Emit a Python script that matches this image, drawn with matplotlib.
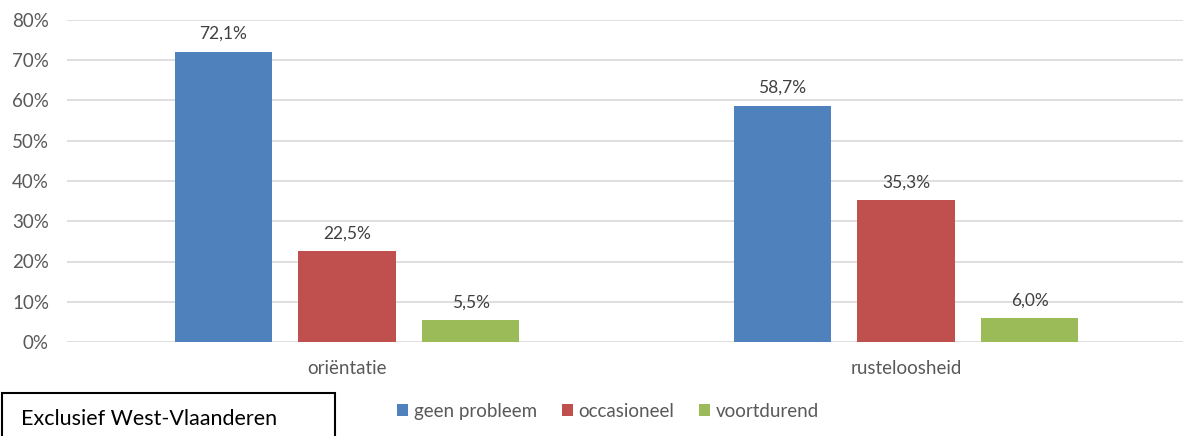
import matplotlib
matplotlib.use("Agg")
import matplotlib.pyplot as plt
from matplotlib.patches import Rectangle
import numpy as np

plt.rcParams['font.family'] = ['Lato', 'DejaVu Sans']

categories = ["oriëntatie", "rusteloosheid"]
series_names = ["geen probleem", "occasioneel", "voortdurend"]
values = [
    [72.1, 58.7],
    [22.5, 35.3],
    [5.5, 6.0],
]
labels = [
    ["72,1%", "58,7%"],
    ["22,5%", "35,3%"],
    ["5,5%", "6,0%"],
]
colors = ["#4F81BD", "#C0504D", "#9BBB59"]
yticks = [0, 10, 20, 30, 40, 50, 60, 70, 80]

W, H = 1183, 436
fig = plt.figure(figsize=(W / 100, H / 100), dpi=100)
ax = fig.add_axes([67 / W, (H - 342) / H, (1183 - 67) / W, (342 - 20) / H])

x = np.arange(len(categories))
width = 0.174
step = 0.221
for i, (name, vals) in enumerate(zip(series_names, values)):
    pos = x + (i - 1) * step
    bars = ax.bar(pos, vals, width=width, color=colors[i], label=name, zorder=3)
    for b, lab in zip(bars, labels[i]):
        ax.annotate(lab, (b.get_x() + b.get_width() / 2, b.get_height()),
                    xytext=(0, 7), textcoords="offset points",
                    ha="center", va="bottom", fontsize=12.5, color="#404040")

ax.set_xlim(-0.501, 1.4955)
ax.set_ylim(0, 80)
ax.set_yticks(yticks)
ax.set_yticklabels([f"{t}%" for t in yticks], fontsize=13.5, color="#595959")
ax.set_xticks(x)
ax.set_xticklabels(categories, fontsize=13.5, color="#595959")
ax.tick_params(axis="both", length=0)
ax.tick_params(axis="y", pad=13)
ax.tick_params(axis="x", pad=13)
ax.yaxis.grid(True, color="#D9D9D9", linewidth=1.2, zorder=0)
for s in ["top", "right", "left", "bottom"]:
    ax.spines[s].set_visible(False)

leg = fig.legend(loc="center", bbox_to_anchor=(608 / W, (H - 411) / H), ncol=3,
                 frameon=False, fontsize=13.5, handlelength=0.6, handleheight=0.6,
                 handletextpad=0.3, columnspacing=1.3)
for t in leg.get_texts():
    t.set_color("#595959")

fig.patches.append(Rectangle((2 / W, -0.05), (335 - 2) / W, (H - 393) / H + 0.05,
                             transform=fig.transFigure, fill=False,
                             edgecolor="black", linewidth=1.5))
fig.text(21 / W, (H - 419) / H, "Exclusief West-Vlaanderen", fontsize=15.5,
         color="black", va="center", ha="left")

fig.savefig("out.png", dpi=100)
